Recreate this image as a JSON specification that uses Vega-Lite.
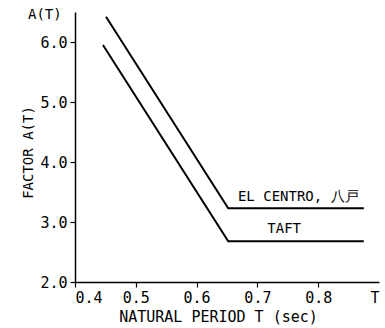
{
  "$schema": "https://vega.github.io/schema/vega-lite/v6.json",
  "width": 304,
  "height": 270,
  "autosize": {"type": "none"},
  "padding": {"left": 75, "top": 12, "right": 6, "bottom": 46},
  "background": "white",
  "config": {
    "view": {"stroke": null},
    "font": "DejaVu Sans Mono",
    "axis": {"grid": false, "domainColor": "black", "tickColor": "black", "labelColor": "black", "titleColor": "black", "labelFont": "DejaVu Sans Mono", "titleFont": "DejaVu Sans Mono", "titleFontWeight": "normal", "domainWidth": 1.5, "tickWidth": 1.2}
  },
  "title": {"text": "A(T)", "anchor": "start", "frame": "group", "align": "left", "dx": -47, "dy": 14, "fontSize": 14, "fontWeight": "normal", "font": "DejaVu Sans Mono", "color": "black"},
  "datasets": {
    "lines": [
      {"series": "EL CENTRO", "T": 0.451, "A": 6.42},
      {"series": "EL CENTRO", "T": 0.652, "A": 3.23},
      {"series": "EL CENTRO", "T": 0.875, "A": 3.23},
      {"series": "TAFT", "T": 0.446, "A": 5.95},
      {"series": "TAFT", "T": 0.652, "A": 2.68},
      {"series": "TAFT", "T": 0.875, "A": 2.68}
    ],
    "labels": [
      {"label": "EL CENTRO, 八戸", "T": 0.668, "A": 3.35, "pos": "left"},
      {"label": "TAFT", "T": 0.744, "A": 2.82, "pos": "center"}
    ]
  },
  "layer": [
    {
      "data": {"name": "lines"},
      "mark": {"type": "line", "color": "black", "strokeWidth": 2},
      "encoding": {
        "x": {"field": "T", "type": "quantitative", "scale": {"domain": [0.4, 0.9], "nice": false, "zero": false},
          "axis": {"values": [0.4, 0.5, 0.6, 0.7, 0.8, 0.9], "labelExpr": "datum.value >= 0.89 ? 'T' : format(datum.value, '.1f')", "labelFontSize": 15, "labelPadding": 3, "tickSize": 5, "title": "NATURAL PERIOD T (sec)", "titleFontSize": 15, "titlePadding": 4, "titleX": 143, "tickColor": {"condition": {"test": "datum.value >= 0.89", "value": "transparent"}, "value": "black"}}},
        "y": {"field": "A", "type": "quantitative", "scale": {"domain": [2, 6.5], "nice": false, "zero": false},
          "axis": {"values": [2, 3, 4, 5, 6], "format": ".1f", "labelFontSize": 15, "labelPadding": 3, "tickSize": 5, "title": "FACTOR A(T)", "titleFontSize": 14, "titlePadding": 4, "titleY": 140}},
        "detail": {"field": "series"}
      }
    },
    {
      "data": {"name": "labels"},
      "transform": [{"filter": "datum.pos == 'left'"}],
      "mark": {"type": "text", "color": "black", "fontSize": 14, "baseline": "alphabetic", "align": "left", "font": "DejaVu Sans Mono"},
      "encoding": {
        "x": {"field": "T", "type": "quantitative"},
        "y": {"field": "A", "type": "quantitative"},
        "text": {"field": "label"}
      }
    },
    {
      "data": {"name": "labels"},
      "transform": [{"filter": "datum.pos == 'center'"}],
      "mark": {"type": "text", "color": "black", "fontSize": 14, "baseline": "alphabetic", "align": "center", "font": "DejaVu Sans Mono"},
      "encoding": {
        "x": {"field": "T", "type": "quantitative"},
        "y": {"field": "A", "type": "quantitative"},
        "text": {"field": "label"}
      }
    }
  ]
}
